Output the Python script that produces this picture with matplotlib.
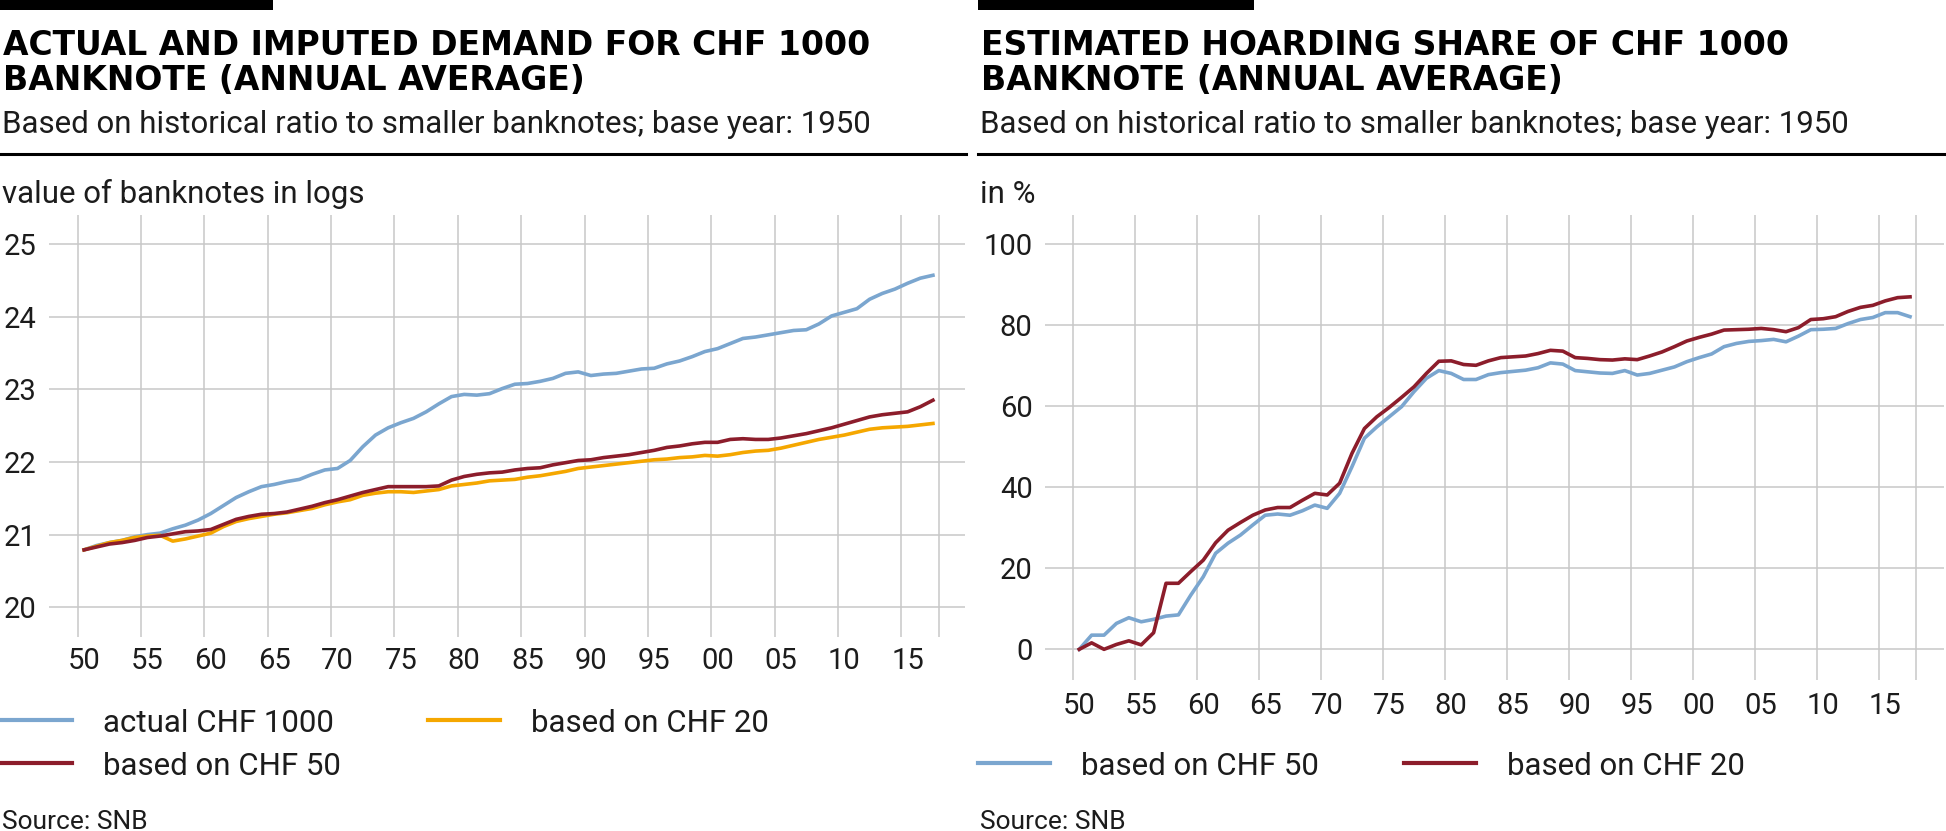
import numpy as np
import matplotlib
matplotlib.use("Agg")
import matplotlib.pyplot as plt
from matplotlib.lines import Line2D
from matplotlib.patches import Rectangle

# annual averages, 1950-2017
years = np.arange(1950, 2018)

actual_chf1000 = [20.79, 20.85, 20.89, 20.92, 20.97, 21.00, 21.02, 21.08, 21.13, 21.20,
                  21.29, 21.40, 21.51, 21.59, 21.66, 21.69, 21.73, 21.76, 21.83, 21.89,
                  21.91, 22.02, 22.21, 22.37, 22.47, 22.54, 22.60, 22.69, 22.80, 22.90,
                  22.93, 22.92, 22.94, 23.01, 23.07, 23.08, 23.11, 23.15, 23.22, 23.24,
                  23.19, 23.21, 23.22, 23.25, 23.28, 23.29, 23.35, 23.39, 23.45, 23.52,
                  23.56, 23.63, 23.70, 23.72, 23.75, 23.78, 23.81, 23.82, 23.90, 24.01,
                  24.06, 24.11, 24.24, 24.32, 24.38, 24.46, 24.53, 24.57]
imputed_chf50 = [20.79, 20.83, 20.87, 20.89, 20.92, 20.96, 20.98, 21.01, 21.04, 21.05,
                 21.07, 21.14, 21.21, 21.25, 21.28, 21.29, 21.31, 21.35, 21.39, 21.44,
                 21.48, 21.53, 21.58, 21.62, 21.66, 21.66, 21.66, 21.66, 21.67, 21.75,
                 21.80, 21.83, 21.85, 21.86, 21.89, 21.91, 21.92, 21.96, 21.99, 22.02,
                 22.03, 22.06, 22.08, 22.10, 22.13, 22.16, 22.20, 22.22, 22.25, 22.27,
                 22.27, 22.31, 22.32, 22.31, 22.31, 22.33, 22.36, 22.39, 22.43, 22.47,
                 22.52, 22.57, 22.62, 22.65, 22.67, 22.69, 22.76, 22.85]
imputed_chf20 = [20.79, 20.84, 20.89, 20.92, 20.96, 20.98, 20.99, 20.91, 20.94, 20.98,
                 21.02, 21.11, 21.18, 21.22, 21.25, 21.28, 21.30, 21.33, 21.36, 21.41,
                 21.45, 21.48, 21.54, 21.57, 21.59, 21.59, 21.58, 21.60, 21.62, 21.67,
                 21.69, 21.71, 21.74, 21.75, 21.76, 21.79, 21.81, 21.84, 21.87, 21.91,
                 21.93, 21.95, 21.97, 21.99, 22.01, 22.03, 22.04, 22.06, 22.07, 22.09,
                 22.08, 22.10, 22.13, 22.15, 22.16, 22.19, 22.23, 22.27, 22.31, 22.34,
                 22.37, 22.41, 22.45, 22.47, 22.48, 22.49, 22.51, 22.53]

hoard_chf50 = [0.0, 3.5, 3.5, 6.4, 7.8, 6.8, 7.4, 8.2, 8.5, 13.4,
               17.9, 23.7, 26.2, 28.2, 30.7, 33.1, 33.4, 33.1, 34.2, 35.6,
               34.8, 38.5, 45.1, 52.1, 54.9, 57.4, 59.9, 63.6, 66.9, 68.8,
               68.1, 66.6, 66.6, 67.8, 68.3, 68.6, 68.9, 69.5, 70.7, 70.4,
               68.8, 68.5, 68.2, 68.1, 68.8, 67.7, 68.1, 68.9, 69.7, 71.0,
               72.0, 72.9, 74.7, 75.5, 76.0, 76.2, 76.5, 75.9, 77.3, 78.9,
               79.0, 79.2, 80.4, 81.4, 81.9, 83.1, 83.1, 82.1]
hoard_chf20 = [0.0, 1.6, 0.0, 1.2, 2.1, 1.1, 4.1, 16.3, 16.3, 19.2,
               22.0, 26.3, 29.4, 31.3, 33.1, 34.4, 35.0, 35.0, 36.8, 38.5,
               38.1, 41.0, 48.4, 54.5, 57.4, 59.7, 62.2, 64.8, 68.1, 71.1,
               71.2, 70.3, 70.1, 71.2, 72.0, 72.2, 72.4, 73.0, 73.8, 73.6,
               72.0, 71.8, 71.5, 71.4, 71.7, 71.5, 72.4, 73.4, 74.7, 76.1,
               77.0, 77.8, 78.8, 78.9, 79.0, 79.2, 78.9, 78.4, 79.4, 81.4,
               81.6, 82.1, 83.4, 84.4, 84.9, 86.0, 86.8, 87.0]

label_years = [1950, 1955, 1960, 1965, 1970, 1975, 1980, 1985, 1990, 1995, 2000, 2005, 2010, 2015]
year_labels = ["50", "55", "60", "65", "70", "75", "80", "85", "90", "95", "00", "05", "10", "15"]

left_title = "ACTUAL AND IMPUTED DEMAND FOR CHF 1000\nBANKNOTE (ANNUAL AVERAGE)"
right_title = "ESTIMATED HOARDING SHARE OF CHF 1000\nBANKNOTE (ANNUAL AVERAGE)"
subtitle = "Based on historical ratio to smaller banknotes; base year: 1950"

BLUE = "#7ba6cf"
RED = "#8c1d2b"
YELLOW = "#f5a700"
GRID = "#c8c8c8"
INK = "#1c1c1c"

plt.rcParams["font.family"] = ["Roboto", "DejaVu Sans"]

W, H = 1946, 831
fig = plt.figure(figsize=(W / 100, H / 100), dpi=100)


def fx(px):
    return px / W


def fy(py):
    return 1 - py / H


def setup(ax, yticks, pad_x):
    for s in ax.spines.values():
        s.set_visible(False)
    ax.set_xticks(label_years + [2018], [""] * (len(label_years) + 1))
    ax.set_xticks([y + 0.5 for y in label_years], year_labels, minor=True)
    ax.set_yticks(yticks)
    ax.tick_params(which="both", length=0, labelsize=21, colors=INK)
    ax.tick_params(axis="x", which="minor", pad=pad_x)
    ax.tick_params(axis="y", pad=9)
    ax.grid(True, which="major", color=GRID, lw=1.1)


# left panel
ax1 = fig.add_axes([fx(49), fy(637), fx(965) - fx(49), fy(215) - fy(637)])
ax1.plot(years + 0.5, actual_chf1000, color=BLUE, lw=2.6)
ax1.plot(years + 0.5, imputed_chf20, color=YELLOW, lw=2.6)
ax1.plot(years + 0.5, imputed_chf50, color=RED, lw=2.6)
ax1.set_xlim(1947.73, 2020.03)
ax1.set_ylim(19.59, 25.40)
setup(ax1, [20, 21, 22, 23, 24, 25], 7)

# right panel
ax2 = fig.add_axes([fx(1045), fy(680), fx(1944) - fx(1045), fy(215) - fy(680)])
ax2.plot(years + 0.5, hoard_chf50, color=BLUE, lw=2.6)
ax2.plot(years + 0.5, hoard_chf20, color=RED, lw=2.6)
ax2.set_xlim(1947.74, 2020.24)
ax2.set_ylim(-7.57, 107.2)
setup(ax2, [0, 20, 40, 60, 80, 100], 9)

# headers
for x0, bar_w, rule_x1, title, unit in [(0, 273, 966, left_title, "value of banknotes in logs"),
                                         (978, 276, 1946, right_title, "in %")]:
    fig.add_artist(Rectangle((fx(x0), fy(10)), fx(bar_w), 10 / H, transform=fig.transFigure,
                             color="black", lw=0))
    lines = title.split("\n")
    fig.text(fx(x0 + 3), fy(55), lines[0], fontsize=23.8, fontweight="bold",
             family="DejaVu Sans", va="baseline")
    fig.text(fx(x0 + 3), fy(90), lines[1], fontsize=23.8, fontweight="bold",
             family="DejaVu Sans", va="baseline")
    fig.text(fx(x0 + 2), fy(133), subtitle, fontsize=22.5, va="baseline", color=INK)
    fig.add_artist(Line2D([fx(x0), fx(rule_x1)], [fy(153.5)] * 2, color="black", lw=2.2))
    fig.text(fx(x0 + 2), fy(203), unit, fontsize=22.5, va="baseline", color=INK)
    fig.text(fx(x0 + 2), fy(829), "Source: SNB", fontsize=19, va="baseline", color=INK)


def legend_entry(x0, y, color, label):
    fig.add_artist(Line2D([fx(x0), fx(x0 + 72)], [fy(y)] * 2, color=color, lw=3))
    fig.text(fx(x0 + 103), fy(y + 12), label, fontsize=22.5, va="baseline", color=INK)


legend_entry(0, 720, BLUE, "actual CHF 1000")
legend_entry(0, 763, RED, "based on CHF 50")
legend_entry(428, 720, YELLOW, "based on CHF 20")
legend_entry(978, 763, BLUE, "based on CHF 50")
legend_entry(1404, 763, RED, "based on CHF 20")

fig.savefig("out.png", dpi=100)
